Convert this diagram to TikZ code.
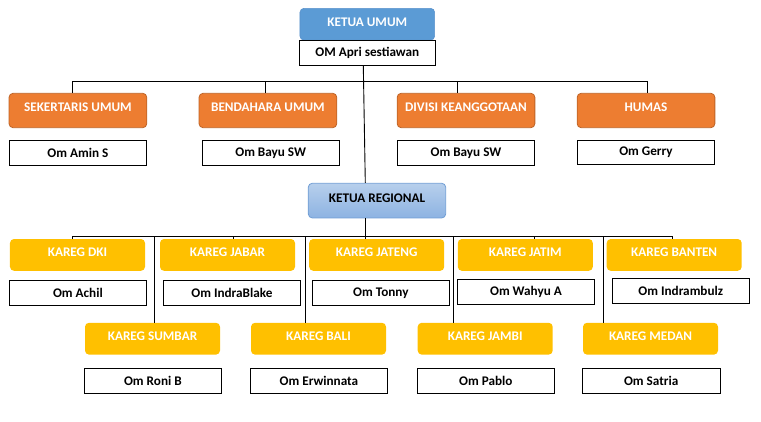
\documentclass[tikz,border=0pt]{standalone}
\usepackage{fontspec}
\setmainfont{Carlito}
\definecolor{cBlue}{HTML}{5B9BD5}
\definecolor{cBlueB}{HTML}{5A92CC}
\definecolor{cOrange}{HTML}{ED7D31}
\definecolor{cOrangeB}{HTML}{BE6427}
\definecolor{cYellow}{HTML}{FFC000}
\definecolor{cRegTop}{HTML}{B7CFEC}
\definecolor{cRegBot}{HTML}{8DB3E2}
\definecolor{cRegB}{HTML}{6F9DD4}
\begin{document}
\begin{tikzpicture}[x=1bp,y=-1bp,
  every node/.style={font=\fontsize{13.2bp}{15bp}\selectfont\bfseries, inner sep=0pt, align=center},
  kuBox/.style={rounded corners=4bp, minimum width=134.7bp, text height=17.8bp, text depth=13.9bp, fill=cBlue, draw=cBlueB, line width=0.6bp, text=white},
  orBox/.style={rounded corners=4bp, minimum width=137.7bp, text height=18.4bp, text depth=16bp, fill=cOrange, draw=cOrangeB, line width=0.8bp, text=white},
  regBox/.style={rounded corners=4bp, minimum width=137.4bp, text height=18.8bp, text depth=15.9bp, top color=cRegTop, bottom color=cRegBot, draw=cRegB, line width=0.8bp, text=black},
  yeBox/.style={rounded corners=4bp, minimum width=135bp, text height=17.8bp, text depth=14bp, fill=cYellow, text=white},
  nmBox/.style={draw=black, line width=0.9bp, fill=white, minimum width=#1, minimum height=24.8bp, text=black},
  nmBox/.default=137.5bp,
  conn/.style={draw=black, line width=0.9bp}
]
\useasboundingbox (0,0) rectangle (761,421);

% top
\node[kuBox] (ku) at (367.3,24.2) {KETUA UMUM};
\node[nmBox=136.7bp] (apri) at (367.3,52.8) {OM Apri sestiawan};

% orange row
\node[orBox] (sek) at (77.9,110.5) {SEKERTARIS UMUM};
\node[orBox] (ben) at (267.9,110.5) {BENDAHARA UMUM};
\node[orBox] (div) at (466,110.5) {DIVISI KEANGGOTAAN};
\node[orBox] (hum) at (646,110.5) {HUMAS};

\node[nmBox] (amin) at (77.9,152.6) {Om Amin S};
\node[nmBox] (bayua) at (270.7,153.3) {Om Bayu SW};
\node[nmBox] (bayub) at (466,153.3) {Om Bayu SW};
\node[nmBox] (gerry) at (646,152.5) {Om Gerry};

% regional
\node[regBox] (reg) at (377,200.6) {KETUA REGIONAL};

% yellow top row
\node[yeBox] (dki) at (77.5,254.9) {KAREG DKI};
\node[yeBox] (jabar) at (227.5,254.9) {KAREG JABAR};
\node[yeBox] (jateng) at (376.7,254.9) {KAREG JATENG};
\node[yeBox] (jatim) at (525.3,254.9) {KAREG JATIM};
\node[yeBox] (banten) at (674.2,254.9) {KAREG BANTEN};

\node[nmBox] (achil) at (77.9,293.3) {Om Achil};
\node[nmBox] (indrab) at (231.9,293.3) {Om IndraBlake};
\node[nmBox] (tonny) at (380.9,293.3) {Om Tonny};
\node[nmBox] (wahyu) at (526,292) {Om Wahyu A};
\node[nmBox] (indram) at (680.8,291.3) {Om Indrambulz};

% yellow bottom row
\node[yeBox] (sumbar) at (152.5,338.7) {KAREG SUMBAR};
\node[yeBox] (bali) at (318.5,338.7) {KAREG BALI};
\node[yeBox] (jambi) at (485.2,338.7) {KAREG JAMBI};
\node[yeBox] (medan) at (650.5,338.7) {KAREG MEDAN};

\node[nmBox] (roni) at (152.9,381.3) {Om Roni B};
\node[nmBox] (erwin) at (318.9,381.3) {Om Erwinnata};
\node[nmBox] (pablo) at (485.9,381.3) {Om Pablo};
\node[nmBox] (satria) at (651.2,381.3) {Om Satria};

% upper bus
\coordinate (t1) at (72.7,81);
\coordinate (t2) at (265.7,81);
\coordinate (t3) at (457.7,81);
\coordinate (t4) at (647.3,81);
\coordinate (tra) at (363.3,81);
\coordinate (trb) at (365.3,81);
\draw[conn] (t1) -- (t4);
\draw[conn] (t1) -- (t1 |- sek.north);
\draw[conn] (t2) -- (t2 |- ben.north);
\draw[conn] (t3) -- (t3 |- div.north);
\draw[conn] (t4) -- (t4 |- hum.north);
\draw[conn] (tra |- apri.south) -- (trb |- reg.north);

% regional bus
\coordinate (r1) at (72.7,236);
\coordinate (r2) at (154.3,236);
\coordinate (r3) at (233.3,236);
\coordinate (r4) at (305.5,236);
\coordinate (r5) at (365.7,236);
\coordinate (r6) at (453.3,236);
\coordinate (r7) at (534.3,236);
\coordinate (r8) at (603.3,236);
\coordinate (r9) at (672,236);
\draw[conn] (r1) -- (r9);
\draw[conn] (r5 |- reg.south) -- (r5 |- jateng.north);
\draw[conn] (r1) -- (r1 |- dki.north);
\draw[conn] (r2) -- (r2 |- sumbar.north);
\draw[conn] (r3) -- (r3 |- jabar.north);
\draw[conn] (r4) -- (r4 |- bali.north);
\draw[conn] (r6) -- (r6 |- jambi.north);
\draw[conn] (r7) -- (r7 |- jatim.north);
\draw[conn] (r8) -- (r8 |- medan.north);
\draw[conn] (r9) -- (r9 |- banten.north);
\end{tikzpicture}
\end{document}
